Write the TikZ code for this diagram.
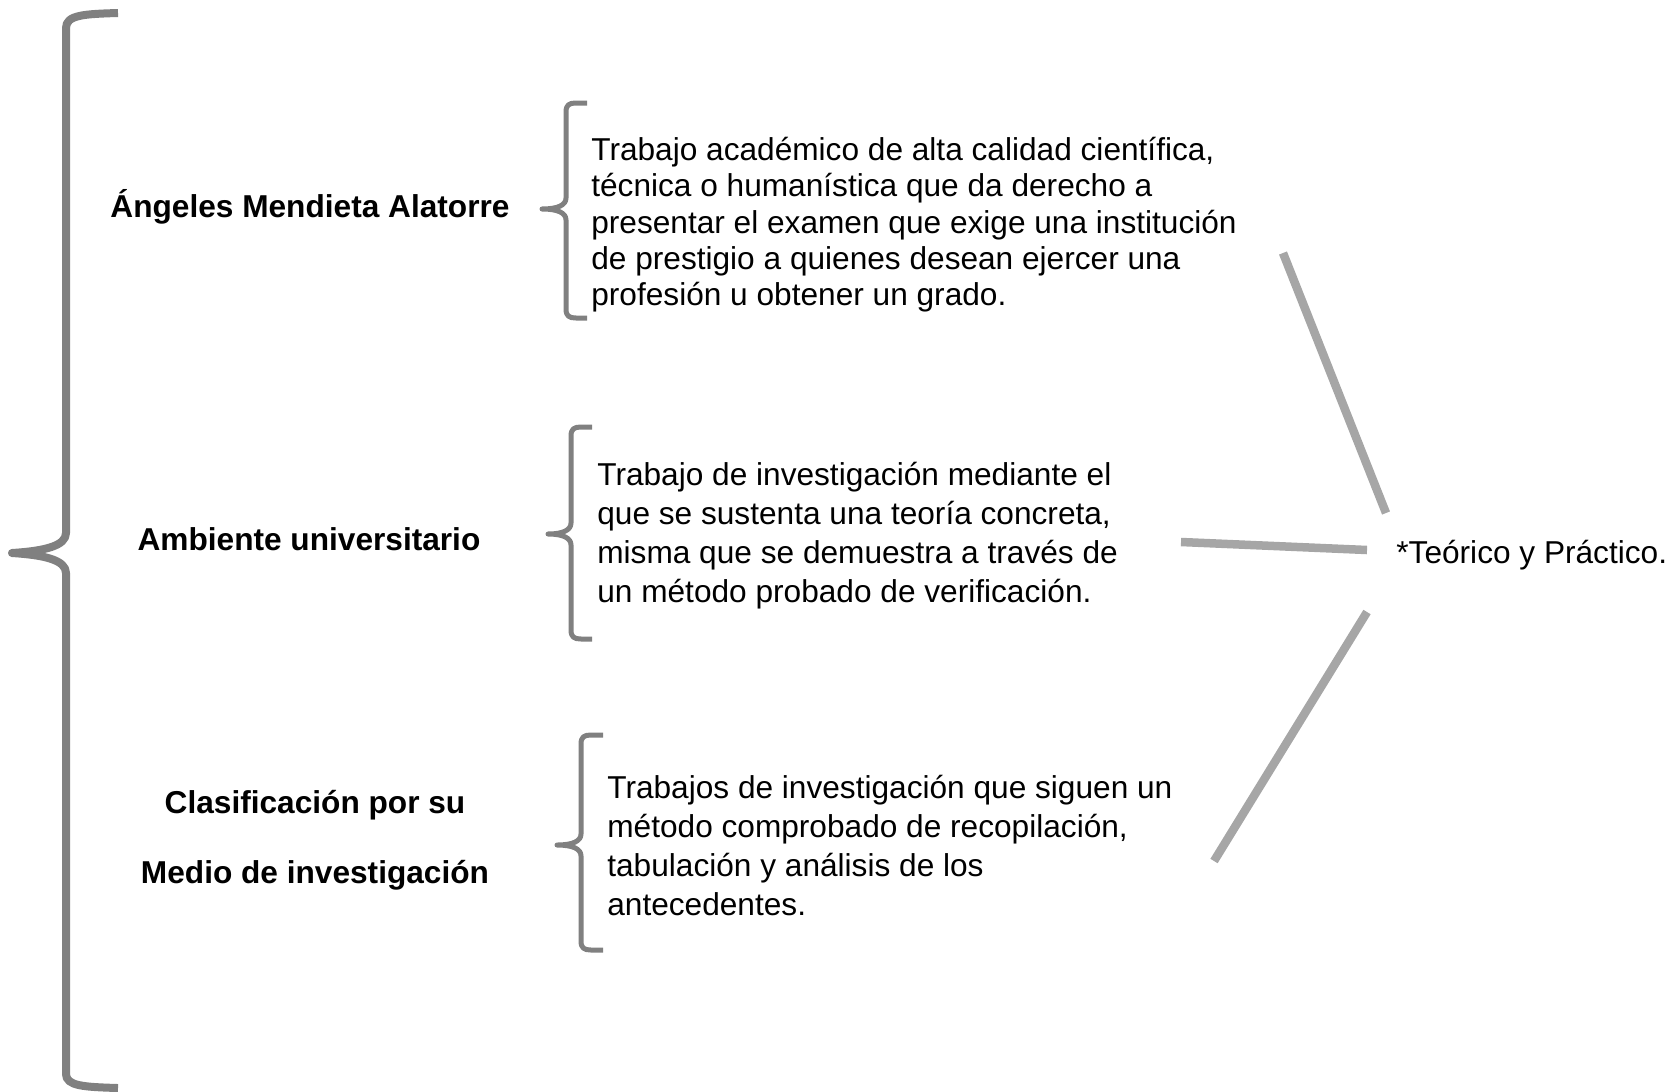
\documentclass[tikz,border=0pt]{standalone}
\usepackage{fontspec}
\setmainfont{Liberation Sans}
\definecolor{128_128_128}{RGB}{128, 128, 128}
\definecolor{166_166_166}{RGB}{166, 166, 166}

\begin{document}
\begin{tikzpicture}[
        x=0.2mm,
        y=-0.2mm,
        bigbrace/.style={draw=128_128_128, line width=1.6mm, line join=round},
        smallbrace/.style={draw=128_128_128, line width=1mm, line join=round},
        spoke/.style={draw=166_166_166, line width=1.7mm},
        title/.style={font=\fontsize{18}{39.8}\selectfont\bfseries, inner sep=0pt, align=center},
        body/.style={font=\fontsize{18}{22.2}\selectfont, inner sep=0pt, align=left, anchor=north west}
    ]

    \useasboundingbox (0,0) rectangle (1677,1091);

    % big brace on the left
    \draw[bigbrace] (118,13) .. controls (84,14) and (66,15) .. (66,28) -- (66,533)
        .. controls (66,546) and (44,551) .. (12,553)
        .. controls (44,555) and (66,560) .. (66,573) -- (66,1074)
        .. controls (66,1086) and (84,1087) .. (118,1088);

    % titles
    \node[title, anchor=base] (angeles) at (310,217) {Ángeles Mendieta Alatorre};
    \node[title, anchor=base] (ambiente) at (309,550) {Ambiente universitario};
    \node[title, anchor=north] (clasif) at (315,790) {Clasificación por su\\Medio de investigación};

    % small braces
    \draw[smallbrace] (587,103) -- (576,103) .. controls (569,103) and (566,105) .. (566,112) -- (566,198)
        .. controls (566,205) and (558,209) .. (542,209)
        .. controls (558,209) and (566,213) .. (566,220) -- (566,309)
        .. controls (566,316) and (569,318) .. (576,318) -- (587,318);
    \draw[smallbrace] (592,427) -- (581,427) .. controls (574,427) and (571,429) .. (571,436) -- (571,523)
        .. controls (571,530) and (563,534) .. (548,534)
        .. controls (563,534) and (571,538) .. (571,545) -- (571,630)
        .. controls (571,637) and (574,639) .. (581,639) -- (592,639);
    \draw[smallbrace] (603,735) -- (591,735) .. controls (584,735) and (581,737) .. (581,744) -- (581,834)
        .. controls (581,841) and (573,845) .. (557,845)
        .. controls (573,845) and (581,849) .. (581,856) -- (581,941)
        .. controls (581,948) and (584,950) .. (591,950) -- (603,950);

    % definitions
    \node[body, font=\fontsize{18}{20.6}\selectfont] (def1) at (591,137) {Trabajo académico de alta calidad científica,\\técnica o humanística que da derecho a\\presentar el examen que exige una institución\\de prestigio a quienes desean ejercer una\\profesión u obtener un grado.};
    \node[body] (def2) at (597,462) {Trabajo de investigación mediante el\\que se sustenta una teoría concreta,\\misma que se demuestra a través de\\un método probado de verificación.};
    \node[body] (def3) at (607,775) {Trabajos de investigación que siguen un\\método comprobado de recopilación,\\tabulación y análisis de los\\antecedentes.};

    % common result
    \node[inner sep=0pt, anchor=base west, font=\fontsize{18}{22}\selectfont] (tipo) at (1396,563) {*Teórico y Práctico.};

    \coordinate (s1a) at (1283,253);
    \coordinate (s1b) at (1386,513);
    \coordinate (s2a) at (1181,542);
    \coordinate (s2b) at (1367,550);
    \coordinate (s3a) at (1367,612);
    \coordinate (s3b) at (1214,861);
    \draw[spoke] (s1a) -- (s1b);
    \draw[spoke] (s2a) -- (s2b);
    \draw[spoke] (s3a) -- (s3b);

\end{tikzpicture}
\end{document}
